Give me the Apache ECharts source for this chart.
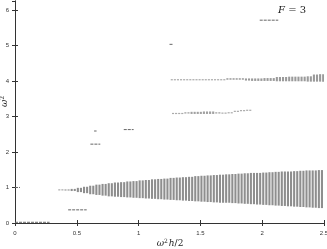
<!DOCTYPE html>
<html><head><meta charset="utf-8">
<script src="https://cdn.jsdelivr.net/npm/echarts@6/dist/echarts.min.js"></script>
<style>html,body{margin:0;padding:0;background:#fff}#c{width:327px;height:249px}</style>
</head><body><div id="c"></div>
<script>
// Main continuous band: column start x, lower and upper edge of omega^2
const mainX = [0.35,0.40,0.45,0.50,0.55,0.60,0.65,0.70,0.75,0.80,0.85,0.90,0.95,1.00,1.05,1.10,1.15,1.20,1.25,1.30,1.35,1.40,1.45,1.50,1.55,1.60,1.65,1.70,1.75,1.80,1.85,1.90,1.95,2.00,2.05,2.10,2.15,2.20,2.25,2.30,2.35,2.40,2.45];
const mainLow = [0.92,0.91,0.90,0.87,0.84,0.81,0.79,0.77,0.75,0.74,0.73,0.72,0.71,0.70,0.69,0.68,0.67,0.66,0.65,0.64,0.63,0.62,0.61,0.60,0.59,0.58,0.57,0.57,0.56,0.55,0.54,0.53,0.52,0.51,0.50,0.49,0.48,0.47,0.46,0.45,0.44,0.43,0.42];
const mainHigh = [0.95,0.95,0.96,0.99,1.02,1.05,1.08,1.10,1.12,1.14,1.15,1.17,1.18,1.20,1.21,1.23,1.24,1.25,1.27,1.28,1.29,1.30,1.32,1.33,1.34,1.35,1.36,1.37,1.38,1.39,1.40,1.41,1.41,1.42,1.43,1.44,1.45,1.45,1.46,1.47,1.48,1.48,1.49];
// Band near omega^2 = 3.1
const b3X = [1.27,1.32,1.37,1.42,1.47,1.52,1.57,1.62,1.67,1.72,1.77,1.82,1.87];
const b3Low = [3.09,3.09,3.08,3.07,3.07,3.07,3.07,3.08,3.10,3.11,3.13,3.15,3.17];
const b3High = [3.10,3.10,3.12,3.13,3.13,3.14,3.14,3.12,3.11,3.12,3.16,3.18,3.19];
// Band near omega^2 = 4
const b4X = [1.26,1.31,1.36,1.41,1.46,1.51,1.56,1.61,1.66,1.71,1.76,1.81,1.86,1.91,1.96,2.01,2.06,2.11,2.16,2.21,2.26,2.31,2.36,2.41,2.46];
const b4Low = [4.03,4.03,4.03,4.03,4.03,4.03,4.03,4.03,4.03,4.03,4.03,4.03,4.01,4.00,4.00,4.00,4.00,3.99,3.99,3.99,3.99,3.99,3.98,3.98,3.98];
const b4High = [4.05,4.05,4.05,4.05,4.05,4.05,4.05,4.05,4.05,4.08,4.08,4.08,4.07,4.07,4.07,4.08,4.08,4.11,4.11,4.12,4.12,4.12,4.13,4.18,4.19];
// Isolated short segments: start x, end x, omega^2
const segX0 = [0.00,0.00,0.43,0.61,0.64,0.88,1.25,1.98];
const segX1 = [0.28,0.04,0.58,0.69,0.66,0.96,1.28,2.13];
const segY  = [0.02,1.00,0.37,2.22,2.59,2.63,5.03,5.71];
const colW = 0.05;

function cols(xs, lo, hi) { return xs.map((x, i) => [x, lo[i], hi[i]]); }
function colRender(color) {
  return function (params, api) {
    const x = api.value(0), lo = api.value(1), hi = api.value(2);
    const p0 = api.coord([x, hi]);
    const p1 = api.coord([x + colW, lo]);
    const h = Math.max(p1[1] - p0[1], 1.2);
    const w = p1[0] - p0[0];
    const children = [];
    const half = w / 2;
    for (let k = 0; k < 2; k++) {
      children.push({ type: 'rect', shape: { x: p0[0] + k * half, y: p0[1], width: Math.max(half - 1, 1), height: h },
        style: { fill: h < 2 ? '#aaa' : color } });
    }
    return { type: 'group', children: children };
  };
}
const segData = segX0.map((x, i) => [x, segX1[i], segY[i]]);

const axisCommon = {
  axisLine: { show: true, lineStyle: { color: '#333', width: 1 } },
  axisTick: { show: true, inside: true, length: 3, lineStyle: { color: '#333' } },
  splitLine: { show: false }
};
const serifRich = {
  i: { fontFamily: 'DejaVu Serif', fontStyle: 'italic', fontSize: 9, fill: '#222' },
  n: { fontFamily: 'DejaVu Serif', fontSize: 9, fill: '#222' },
  s: { fontFamily: 'DejaVu Serif', fontSize: 6, fill: '#222', verticalAlign: 'top', padding: [0, 1, 6, 0] }
};
const chart = echarts.init(document.getElementById('c'), null, { renderer: 'canvas' });
chart.setOption({
  animation: false,
  grid: { left: 15, right: 3, top: 1, bottom: 26, show: false, containLabel: false, outerBoundsMode: 'none' },
  xAxis: [
    Object.assign({ type: 'value', min: 0, max: 2.5, interval: 0.5, position: 'bottom',
      axisLabel: { fontSize: 6, color: '#333', margin: 7, formatter: v => String(v) } }, axisCommon),
    Object.assign({ type: 'value', min: 0, max: 2.5, interval: 0.5, position: 'top', axisLabel: { show: false } }, axisCommon)
  ],
  yAxis: [
    Object.assign({ type: 'value', min: 0, max: 6.25, interval: 1, position: 'left',
      axisLabel: { fontSize: 6, color: '#333', margin: 6, showMaxLabel: false, formatter: v => String(v) } }, axisCommon),
    Object.assign({ type: 'value', min: 0, max: 6.25, interval: 1, position: 'right', axisLabel: { show: false } }, axisCommon)
  ],
  graphic: [
    { type: 'text', left: 278, top: 4,
      style: { text: '{i|F} {n|= 3}', rich: {
        i: { fontFamily: 'DejaVu Serif', fontStyle: 'italic', fontSize: 10, fill: '#222' },
        n: { fontFamily: 'DejaVu Serif', fontSize: 10, fill: '#222' } } } },
    { type: 'text', x: 170, y: 244,
      style: { text: '{i|ω}{s|2}{i|h}{n|/2}', rich: serifRich, align: 'center', verticalAlign: 'middle' } },
    { type: 'text', x: 5, y: 101, rotation: Math.PI / 2,
      style: { text: '{i|ω}{s|2}', rich: serifRich, align: 'center', verticalAlign: 'middle' } }
  ],
  series: [
    { type: 'custom', clip: true, data: cols(mainX, mainLow, mainHigh), renderItem: colRender('#8e8e8e'), encode: { x: 0, y: [1, 2] } },
    { type: 'custom', clip: true, data: cols(b3X, b3Low, b3High), renderItem: colRender('#a0a0a0'), encode: { x: 0, y: [1, 2] } },
    { type: 'custom', clip: true, data: cols(b4X, b4Low, b4High), renderItem: colRender('#9a9a9a'), encode: { x: 0, y: [1, 2] } },
    { type: 'custom', clip: true, data: segData, encode: { x: [0, 1], y: 2 },
      renderItem: function (params, api) {
        const a = api.coord([api.value(0), api.value(2)]);
        const b = api.coord([api.value(1), api.value(2)]);
        return { type: 'line', shape: { x1: a[0], y1: a[1], x2: b[0], y2: b[1] },
          style: { stroke: '#666', lineWidth: 1, lineDash: [3, 1] } };
      } }
  ]
});
</script></body></html>
